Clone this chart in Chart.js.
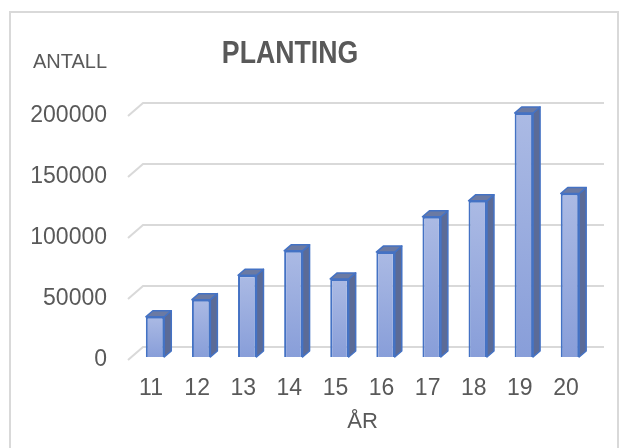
<!DOCTYPE html>
<html>
<head>
<meta charset="utf-8">
<script src="https://cdn.jsdelivr.net/npm/chart.js@4"></script>
<style>
  html, body { margin: 0; padding: 0; background: #fff; }
  #wrap { width: 620px; height: 448px; }
</style>
</head>
<body>
<div id="wrap"><canvas id="plantChart" width="620" height="448"></canvas></div>
<script>
// Data
const years = ['11', '12', '13', '14', '15', '16', '17', '18', '19', '20'];
const planted = [33000, 47000, 67000, 87000, 64000, 86000, 115000, 128000, 200000, 134000];
const yTicks = [0, 50000, 100000, 150000, 200000];

const textColor = '#595959';
const fontFamily = '"Liberation Sans", Arial, sans-serif';

// depth of the fake 3D
const DX = 7, DY = 6;

// Frame, grid walls, 3D faces and the labels Chart.js can't place
const excelLook = {
    id: 'excelLook',
    beforeDraw(chart) {
        const ctx = chart.ctx;
        ctx.save();
        ctx.fillStyle = '#fff';
        ctx.fillRect(0, 0, chart.width, chart.height);
        ctx.strokeStyle = '#d9d9d9';
        ctx.lineWidth = 2;
        ctx.strokeRect(10, 12, 608, 460);
        ctx.restore();
    },
    beforeDatasetsDraw(chart) {
        const ctx = chart.ctx;
        const area = chart.chartArea;
        const y = chart.scales.y;
        ctx.save();
        ctx.strokeStyle = '#d9d9d9';
        ctx.lineWidth = 2;
        y.ticks.forEach(t => {
            const py = y.getPixelForValue(t.value);
            ctx.beginPath();
            ctx.moveTo(area.left - 4, py + 3);
            ctx.lineTo(area.left + 11, py - 10);
            ctx.lineTo(area.right + 11, py - 10);
            ctx.stroke();
        });
        ctx.restore();
    },
    afterDatasetsDraw(chart) {
        const ctx = chart.ctx;
        const meta = chart.getDatasetMeta(0);
        ctx.save();
        ctx.lineWidth = 1.5;
        ctx.strokeStyle = '#4472c4';
        ctx.lineJoin = 'round';
        meta.data.forEach(bar => {
            const l = bar.x - bar.width / 2;
            const r = bar.x + bar.width / 2;
            const top = bar.y;
            const base = bar.base;
            // side face
            ctx.beginPath();
            ctx.moveTo(r, top);
            ctx.lineTo(r + DX, top - DY);
            ctx.lineTo(r + DX, base - DY);
            ctx.lineTo(r, base);
            ctx.closePath();
            ctx.fillStyle = '#5b6b97';
            ctx.fill();
            ctx.stroke();
            // top face
            ctx.beginPath();
            ctx.moveTo(l, top);
            ctx.lineTo(l + DX, top - DY);
            ctx.lineTo(r + DX, top - DY);
            ctx.lineTo(r, top);
            ctx.closePath();
            ctx.fillStyle = '#6b7aa3';
            ctx.fill();
            ctx.stroke();
        });
        ctx.restore();
    },
    afterDraw(chart) {
        const ctx = chart.ctx;
        ctx.save();
        ctx.fillStyle = textColor;
        ctx.textBaseline = 'alphabetic';
        ctx.textAlign = 'left';
        ctx.font = '20px ' + fontFamily;
        ctx.fillText('ANTALL', 33, 68);
        // title, slightly condensed like the original
        ctx.translate(290, 63);
        ctx.scale(0.86, 1);
        ctx.textAlign = 'center';
        ctx.font = 'bold 31px ' + fontFamily;
        ctx.fillText('PLANTING', 0, 0);
        ctx.restore();
    }
};

function barGradient(context) {
    const chart = context.chart;
    const y = chart.scales.y;
    if (!chart.chartArea || !y) return '#9aace0';
    const top = y.getPixelForValue(planted[context.dataIndex]);
    const bottom = y.getPixelForValue(0);
    const g = chart.ctx.createLinearGradient(0, top, 0, bottom);
    g.addColorStop(0, '#abbae4');
    g.addColorStop(1, '#889ed9');
    return g;
}

new Chart(document.getElementById('plantChart').getContext('2d'), {
    type: 'bar',
    data: {
        labels: years,
        datasets: [{
            label: 'Planting',
            data: planted,
            backgroundColor: barGradient,
            borderColor: '#4472c4',
            borderWidth: 2,
            barPercentage: 0.4,
            categoryPercentage: 1,
            clip: false
        }]
    },
    options: {
        responsive: false,
        animation: false,
        layout: {
            padding: { left: 10, top: 113, right: 27, bottom: 0 }
        },
        plugins: {
            legend: { display: false },
            title: { display: false },
            tooltip: { enabled: false }
        },
        scales: {
            x: {
                grid: { display: false, drawTicks: false },
                border: { display: false },
                ticks: {
                    color: textColor,
                    font: { family: fontFamily, size: 23 },
                    padding: 18,
                    labelOffset: -4,
                    maxRotation: 0
                },
                title: {
                    display: true,
                    text: 'ÅR',
                    color: textColor,
                    font: { family: fontFamily, size: 22 },
                    padding: { top: 0, bottom: 13 }
                },
                afterFit: scale => { scale.height = 91; }
            },
            y: {
                min: 0,
                max: 200000,
                grid: { display: false, drawTicks: false },
                border: { display: false },
                ticks: {
                    color: textColor,
                    font: { family: fontFamily, size: 23 },
                    padding: 25,
                    labelOffset: 3,
                    callback: v => String(v)
                },
                afterBuildTicks: scale => {
                    scale.ticks = yTicks.map(v => ({ value: v }));
                },
                afterFit: scale => { scale.width = 122; }
            }
        }
    },
    plugins: [excelLook]
});
</script>
</body>
</html>
